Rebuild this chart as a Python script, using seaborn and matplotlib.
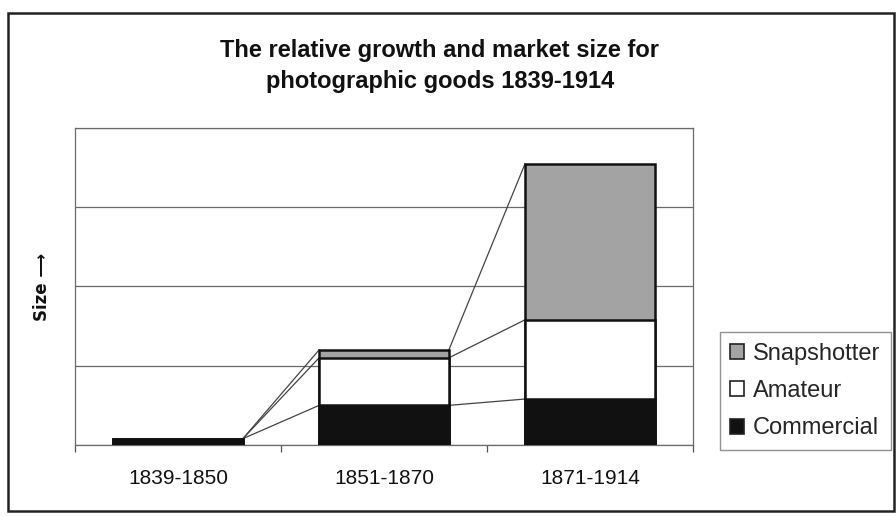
import numpy as np
import pandas as pd
import matplotlib
matplotlib.use("Agg")
import matplotlib.pyplot as plt
from matplotlib.patches import Rectangle, Patch
import seaborn as sns

# Market size by period (relative units) for each class of photographic goods
periods = ["1839-1850", "1851-1870", "1871-1914"]
commercial = [0.08, 0.50, 0.58]
amateur = [0.0, 0.60, 1.00]
snapshotter = [0.0, 0.10, 1.97]
series_names = ["Snapshotter", "Amateur", "Commercial"]
series_colors = {"Snapshotter": "#a3a3a3", "Amateur": "#ffffff", "Commercial": "#111111"}

sns.set_theme(style="white")
plt.rcParams["font.family"] = ["Liberation Sans", "DejaVu Sans"]

fig = plt.figure(figsize=(8.96, 5.16), dpi=100)
fig.patch.set_facecolor("white")
ax = fig.add_axes([0.0837, 0.1376, 0.6897, 0.6144])

c = np.array(commercial)
a = np.array(amateur)
s = np.array(snapshotter)
levels = {
    "Commercial": c,
    "Amateur": c + a,
    "Snapshotter": c + a + s,
}

# Stacked bars: draw cumulative totals from the tallest layer down
for name in ["Snapshotter", "Amateur", "Commercial"]:
    df = pd.DataFrame({"period": periods, "value": levels[name]})
    sns.barplot(data=df, x="period", y="value", color=series_colors[name],
                width=0.63, edgecolor="#111111", linewidth=1.8,
                saturation=1, ax=ax, zorder=3)

# Series lines joining the top of each segment across neighbouring bars
half = 0.63 / 2
for name in ["Commercial", "Amateur", "Snapshotter"]:
    vals = levels[name]
    for i in range(len(periods) - 1):
        ax.plot([i + half, i + 1 - half], [vals[i], vals[i + 1]],
                color="#444444", linewidth=0.9, zorder=2)

ax.set_ylim(0, 4)
ax.set_xlim(-0.5, 2.5)
ax.set_yticks([0, 1, 2, 3, 4])
ax.set_yticklabels([])
ax.yaxis.grid(True, color="#6a6a6a", linewidth=0.9)
ax.set_axisbelow(True)
ax.set_xlabel("")
ax.set_ylabel("Size \u27f6", fontsize=12, fontweight="bold", color="#111111", labelpad=14,
              family=["DejaVu Sans"])
ax.tick_params(axis="x", which="major", length=0, pad=17, labelsize=15, labelcolor="#111111")
ax.set_xticks([-0.5, 0.5, 1.5, 2.5], minor=True)
ax.tick_params(axis="x", which="minor", length=5, width=0.9, color="#555555", direction="out", bottom=True)
ax.tick_params(axis="y", length=0)
for side in ["left", "right", "top", "bottom"]:
    ax.spines[side].set_visible(True)
    ax.spines[side].set_color("#6a6a6a")
    ax.spines[side].set_linewidth(0.9)

fig.text(0.491, 0.872, "The relative growth and market size for\nphotographic goods 1839-1914",
         ha="center", va="center", fontsize=17, fontweight="bold",
         color="#111111", linespacing=1.45)

handles = [Patch(facecolor=series_colors[n], edgecolor="#222222", linewidth=1.2) for n in series_names]
leg = fig.legend(handles, series_names, loc="center", bbox_to_anchor=(0.8986, 0.2422),
                 fontsize=17, frameon=True, fancybox=False, edgecolor="#777777",
                 handlelength=0.6, handleheight=0.6, handletextpad=0.35,
                 labelspacing=0.65, borderpad=0.45)
leg.get_frame().set_linewidth(1.0)

# Outer chart border
fig.patches.append(Rectangle((8 / 896, 5 / 516), 886 / 896, 498 / 516,
                             transform=fig.transFigure, fill=False,
                             edgecolor="#222222", linewidth=1.8))

fig.savefig("out.png", dpi=100)
